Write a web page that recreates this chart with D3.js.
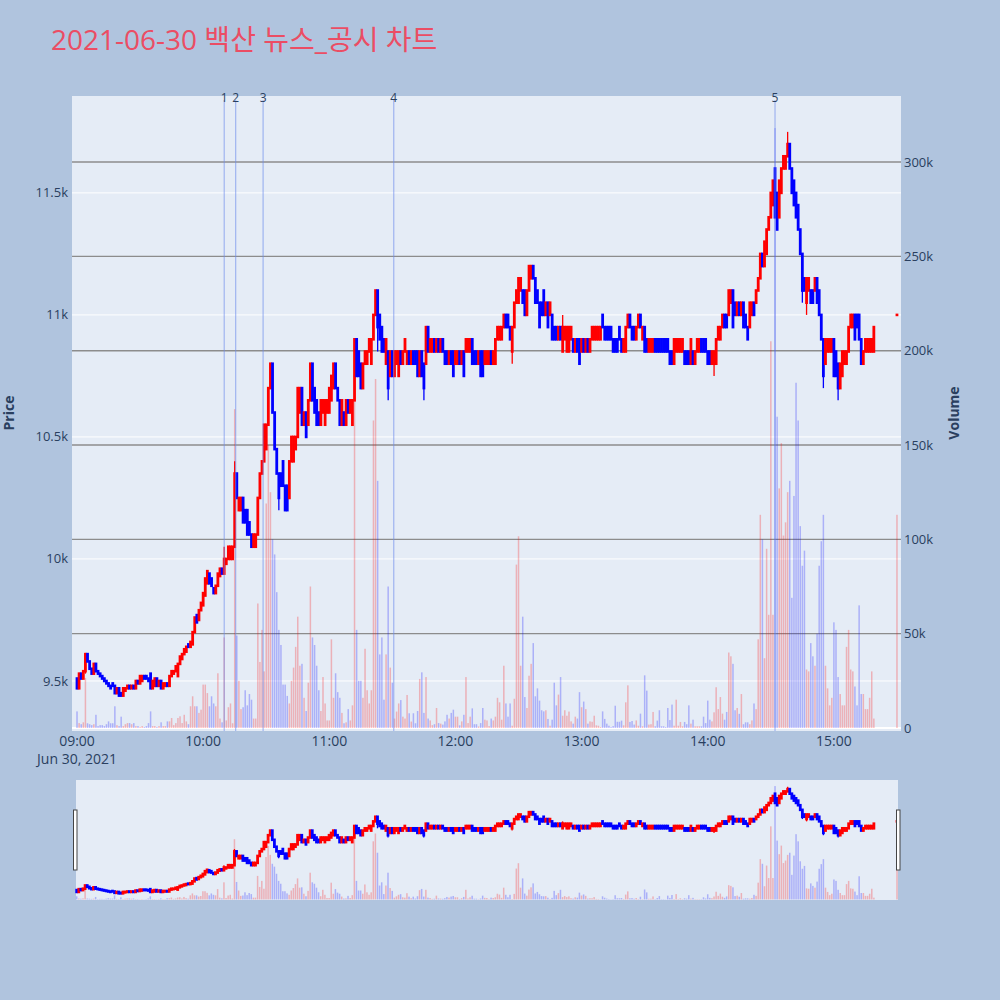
<!DOCTYPE html>
<html>
<head>
<meta charset="utf-8">
<script src="https://cdn.jsdelivr.net/npm/d3@7"></script>
<style>
body { margin: 0; background: #b0c4de; }
text { font-family: "Open Sans", "Noto Sans CJK KR", sans-serif; }
</style>
</head>
<body>
<svg id="chart" width="1000" height="1000"></svg>
<script>
const chartTitle = "2021-06-30 백산 뉴스_공시 차트"
const tradeDate = "2021-06-30"
const firstMinute = "09:00"

// one-minute candles, 09:00 .. 15:19
const opens = [
    9510,9470,9530,9510,9540,9610,9580,9550,9530,9570,
    9540,9530,9520,9510,9500,9490,9480,9490,9480,9450,
    9470,9450,9440,9460,9470,9480,9470,9480,9470,9500,
    9490,9500,9520,9520,9510,9530,9470,9480,9510,9480,
    9500,9470,9480,9490,9480,9520,9530,9540,9520,9570,
    9590,9610,9620,9650,9640,9650,9700,9770,9750,9790,
    9810,9850,9900,9940,9920,9880,9860,9890,9930,9960,
    9940,9980,10000,10000,10000,10050,10350,10200,10200,10250,
    10200,10200,10150,10100,10050,10050,10100,10250,10350,10400,
    10450,10550,10700,10800,10600,10450,10350,10350,10400,10300,
    10300,10250,10400,10400,10450,10500,10600,10700,10550,10600,
    10550,10650,10800,10700,10650,10600,10550,10600,10550,10600,
    10600,10650,10700,10800,10700,10650,10550,10600,10550,10650,
    10600,10550,10650,10900,10850,10800,10700,10800,10800,10850,
    10800,10900,11000,11100,11000,10950,10900,10800,10850,10750,
    10850,10750,10800,10750,10850,10800,10850,10800,10850,10800,
    10850,10850,10850,10750,10850,10800,10800,10950,10850,10850,
    10900,10850,10900,10850,10900,10850,10850,10800,10850,10850,
    10800,10800,10850,10800,10850,10850,10850,10850,10900,10850,
    10850,10800,10850,10850,10800,10800,10800,10850,10800,10800,
    10900,10900,10900,10950,11000,11000,10950,10850,10950,11050,
    11050,11100,11100,11100,11000,11100,11150,11200,11150,11100,
    11050,11050,11100,11000,11050,11000,11000,10950,10950,10900,
    10950,10850,10900,10850,10850,10900,10900,10850,10900,10900,
    10850,10900,10850,10900,10850,10900,10900,10900,10900,10900,
    11000,10950,10950,10950,10950,10900,10900,10900,10950,10900,
    10850,10850,10950,11000,10950,10950,10900,10950,11000,10900,
    10950,10900,10850,10850,10850,10900,10900,10900,10900,10900,
    10900,10900,10850,10850,10800,10850,10850,10850,10850,10850,
    10850,10850,10800,10850,10800,10850,10850,10900,10900,10900,
    10850,10850,10800,10800,10800,10900,10900,10950,11000,11000,
    11000,11050,11100,11050,11000,11050,11000,11050,11000,10950,
    10950,11000,11050,11050,11100,11150,11250,11200,11250,11350,
    11400,11450,11600,11500,11400,11500,11600,11600,11650,11700,
    11600,11550,11500,11450,11350,11250,11150,11050,11100,11100,
    11100,11100,11150,11100,11000,10900,10800,10850,10850,10850,
    10900,10850,10800,10700,10750,10800,10800,10850,10950,10950,
    11000,11000,11000,10900,10800,10850,10850,10850,10850,10850
]
const closes = [
    9470,9530,9510,9540,9610,9580,9550,9530,9570,9540,
    9530,9520,9510,9500,9490,9480,9470,9480,9450,9470,
    9440,9440,9470,9470,9480,9470,9480,9470,9500,9490,
    9520,9520,9510,9510,9500,9470,9500,9510,9480,9500,
    9470,9490,9490,9480,9520,9540,9540,9560,9570,9600,
    9610,9630,9640,9640,9660,9700,9760,9740,9790,9820,
    9860,9920,9950,9900,9890,9860,9890,9940,9960,9940,
    10000,10000,10050,10050,10050,10350,10250,10250,10250,10150,
    10150,10100,10100,10050,10100,10100,10250,10350,10400,10550,
    10550,10700,10800,10600,10450,10350,10250,10300,10300,10200,
    10200,10400,10500,10500,10500,10700,10700,10550,10600,10500,
    10650,10800,10650,10600,10550,10550,10650,10650,10650,10650,
    10700,10750,10800,10700,10650,10550,10650,10550,10650,10600,
    10650,10650,10900,10750,10750,10700,10800,10850,10850,10900,
    10900,11000,11100,10950,10900,10850,10850,10900,10700,10850,
    10750,10850,10850,10850,10800,10850,10900,10850,10800,10850,
    10800,10800,10750,10850,10750,10700,10950,10850,10900,10900,
    10850,10900,10850,10900,10850,10800,10800,10850,10800,10750,
    10850,10850,10800,10850,10750,10900,10900,10900,10800,10800,
    10800,10850,10750,10750,10850,10850,10850,10800,10850,10900,
    10950,10950,10950,11000,10950,10950,10900,10950,11050,11100,
    11150,11150,11050,11000,11100,11200,11200,11150,11050,11050,
    10950,11000,11000,11050,10950,11050,10900,10900,10900,10950,
    10900,10950,10950,10950,10950,10950,10850,10900,10850,10800,
    10900,10850,10900,10850,10900,10950,10950,10950,10950,10950,
    10950,10900,10900,10900,10900,10850,10850,10850,10900,10850,
    10900,10950,11000,10950,10900,10900,10950,11000,10950,10950,
    10850,10850,10900,10900,10900,10850,10850,10850,10850,10850,
    10850,10850,10800,10800,10900,10900,10900,10900,10900,10800,
    10800,10800,10900,10800,10850,10900,10900,10850,10850,10850,
    10800,10800,10850,10850,10900,10950,10950,11000,10950,10950,
    11100,11100,10950,11000,11050,11000,11050,10950,10950,10900,
    11050,11050,11000,11100,11150,11250,11200,11300,11350,11400,
    11500,11550,11400,11350,11550,11600,11650,11650,11700,11600,
    11500,11450,11400,11350,11250,11100,11100,11150,11150,11050,
    11050,11150,11050,11000,10900,10750,10900,10900,10900,10900,
    10750,10750,10700,10800,10850,10850,10850,10950,11000,11000,
    10900,10950,10900,10800,10850,10900,10900,10900,10900,10950
]
// volume in thousand shares
const volumeK = [
    8.8,2.6,2,3,26.5,2.5,2,1.5,2,7,
    1,1.5,1.5,1,2,3.5,2.5,2.5,11.5,1.5,
    1,6,1,2,2.6,2.6,2,2.6,1,1,
    0.5,1,0.5,1,2.6,8.8,1,1,0.5,1,
    3,1,1,3.5,3.5,5.3,1.5,2.6,5.3,6.2,
    2.6,7,3.5,2,11.5,16.8,11.5,11.5,8,9.7,
    23,23,18.5,11.5,16.8,13,11.5,29,5,3,
    48,4,11,13,2.5,169,49,25,10,11,
    20,12,18,15,5,5,66,35,52,30,
    119,150,125,100,92,72,52,44,23,23,
    17,13,25,32,43,59,33,34,16,9,
    24,75,48,44,33,20,9,27,13,4,
    4,47,16,29,19,16,8,2.5,3,10,
    4,12,195,52,25,25,16,42,20,13,
    20,163,185,131,39,48,15,39,75,32,
    24,5,8.7,13,14.8,6,5,17.5,7.8,3.4,
    7.8,2.5,9,26,29.5,8,27,5,4,1.5,
    2,10.6,2.6,2.3,1.8,3.5,7,5,8,9.7,
    6,6,1.4,3.5,7,27,2.6,6,10.4,2,
    2,0.8,2.6,10.6,4.4,4,1,5,4,6,
    16,13.6,4.4,33,13,6,13,1.2,15.5,86.6,
    101.6,33,59,16.4,10.6,27.7,34,45,16.8,21,
    14.5,9.4,8.8,9.4,4.8,1.2,4.4,24,12,17.7,
    27,6.5,9.4,6.5,8.7,3.5,2.3,6,5,19,
    11,14,10,2.3,3.5,3.3,6.5,1.4,1.2,0.5,
    8.8,4.8,2.3,1.2,0.5,1,11.8,3.3,3.3,3.9,
    1.4,13.6,22.6,3.2,3.7,1.8,4,1.2,7.6,0.9,
    27.9,19.8,1.8,2,8.5,0.9,3.9,9.4,0.9,0.9,
    0.5,10.6,4.2,12.4,1.2,15,1.2,3.2,0.9,3.2,
    2,12,2.3,4.4,0.9,0.9,0.9,0.9,6,2.6,
    14.5,4.4,3.5,8.3,21.6,10,16.4,7.6,4.4,8.5,
    40,38,34,9.4,10.6,7.5,18,2,3,3,
    2,4,13,10,47,113,100,37,95,60,
    205,60,318,165,127,151,102,109,125,131,
    69,123,183,163,107,86,94,31,30,45,
    38,33,50,86,99,113,33,21,12,16,
    56,52,27,18,12,12,43,52,31,30,
    22,12,65,18,18,10,10,16,30,5
]
// [minute index, high, low] where a wick sticks out of the body
const wicks = [
    [4,9615,9530],[70,10050,9940],[75,10400,10050],[96,10350,10200],
    [143,11100,10850],[148,10850,10650],[165,10800,10650],[207,10950,10800],
    [231,11000,10850],[303,10850,10750],[338,11750,11650],[345,11250,11050],
    [347,11150,11000],[355,10900,10700],[362,10800,10650]
]
const auctionTime = "15:30"
const auctionPrice = 11000
const auctionVolumeK = 113

const newsTimes = ["10:10:00", "10:15:30", "10:28:30", "11:30:40", "14:32:00"]
const newsLabels = ["1", "2", "3", "4", "5"]

const priceTicks = [9500, 10000, 10500, 11000, 11500]
const priceTickLabels = ["9.5k", "10k", "10.5k", "11k", "11.5k"]
const volumeTicks = [0, 50, 100, 150, 200, 250, 300]
const volumeTickLabels = ["0", "50k", "100k", "150k", "200k", "250k", "300k"]
const hourTicks = ["09:00", "10:00", "11:00", "12:00", "13:00", "14:00", "15:00"]

const parseT = d3.timeParse("%Y-%m-%d %H:%M:%S")
const at = s => parseT(tradeDate + " " + (s.length == 5 ? s + ":00" : s))

function buildCandles(){
    const start = at(firstMinute)
    let candles = opens.map((o, i) => {
        let c = closes[i]
        return {t: d3.timeMinute.offset(start, i), o: o, c: c,
            hi: Math.max(o, c), lo: Math.min(o, c), v: volumeK[i]}
    })
    for (const w of wicks){
        let d = candles[w[0]]
        d.hi = Math.max(d.hi, w[1])
        d.lo = Math.min(d.lo, w[2])
    }
    candles.push({t: at(auctionTime), o: auctionPrice, c: auctionPrice,
        hi: auctionPrice, lo: auctionPrice, v: auctionVolumeK})
    return candles
}

const candles = buildCandles()
const svg = d3.select("#chart")
const axisColor = "#2a3f5f"
const upColor = "#ff0000"
const downColor = "#0000ff"
const isUp = d => d.c >= d.o

const main = {left: 72, right: 901, top: 96, bottom: 731}
const slider = {left: 76, right: 898, top: 780, bottom: 900}

const x = d3.scaleTime().domain([at("08:57:37"), at("15:31:55")]).range([main.left, main.right])
const y = d3.scaleLinear().domain([9295, 11897]).range([main.bottom, main.top])
const yv = d3.scaleLinear().domain([-1.6, 335]).range([main.bottom, main.top])

const xs = d3.scaleTime().domain([at("08:59:40"), at("15:30:28")]).range([slider.left, slider.right])
const ys = d3.scaleLinear().domain(y.domain()).range([slider.bottom, slider.top])
const ysv = d3.scaleLinear().domain(yv.domain()).range([slider.bottom, slider.top])

// title
svg.append("text")
    .text(chartTitle)
    .attr("x", 51)
    .attr("y", 50)
    .attr("font-size", 28)
    .attr("fill", "#eb4d64")

// main plot background
svg.append("rect")
    .attr("x", main.left).attr("y", main.top)
    .attr("width", main.right - main.left).attr("height", main.bottom - main.top)
    .attr("fill", "#e5ecf6")

// price grid
svg.append("g").selectAll("line").data(priceTicks).join("line")
    .attr("x1", main.left).attr("x2", main.right)
    .attr("y1", d => y(d)).attr("y2", d => y(d))
    .attr("stroke", "white").attr("stroke-width", 1)

// volume grid
svg.append("g").selectAll("line").data(volumeTicks.slice(1)).join("line")
    .attr("x1", main.left).attr("x2", main.right)
    .attr("y1", d => yv(d)).attr("y2", d => yv(d))
    .attr("stroke", "#8c8c8c").attr("stroke-width", 1.4)

svg.append("line")
    .attr("x1", main.left).attr("x2", main.right)
    .attr("y1", yv(0)).attr("y2", yv(0))
    .attr("stroke", "white").attr("stroke-width", 2)

function drawSeries(g, xScale, yScale, yvScale){
    g.append("g").selectAll("rect").data(candles).join("rect")
        .attr("x", d => xScale(d.t) - 0.75)
        .attr("width", 1.5)
        .attr("y", d => yvScale(d.v))
        .attr("height", d => yvScale(0) - yvScale(d.v))
        .attr("fill", d => isUp(d) ? "rgba(255,0,0,0.25)" : "rgba(0,0,255,0.25)")

    g.append("g").selectAll("line").data(candles.filter(d => d.hi > Math.max(d.o, d.c) || d.lo < Math.min(d.o, d.c))).join("line")
        .attr("x1", d => xScale(d.t)).attr("x2", d => xScale(d.t))
        .attr("y1", d => yScale(d.hi)).attr("y2", d => yScale(d.lo))
        .attr("stroke", d => isUp(d) ? upColor : downColor)
        .attr("stroke-width", 1.3)

    g.append("g").selectAll("rect").data(candles).join("rect")
        .attr("x", d => xScale(d.t) - 1.4)
        .attr("width", 2.8)
        .attr("y", d => yScale(Math.max(d.o, d.c)) - 1.3)
        .attr("height", d => Math.abs(yScale(d.o) - yScale(d.c)) + 2.6)
        .attr("fill", d => isUp(d) ? upColor : downColor)
}

drawSeries(svg.append("g"), x, y, yv)

// news markers
const news = svg.append("g")
news.selectAll("line").data(newsTimes).join("line")
    .attr("x1", d => x(at(d))).attr("x2", d => x(at(d)))
    .attr("y1", 100).attr("y2", main.bottom)
    .attr("stroke", "rgb(110,140,235)")
    .attr("stroke-opacity", 0.7)
    .attr("stroke-width", 1)
news.selectAll("text").data(newsTimes).join("text")
    .text((d, i) => newsLabels[i])
    .attr("x", d => x(at(d)))
    .attr("y", 102)
    .attr("text-anchor", "middle")
    .attr("font-size", 12)
    .attr("fill", axisColor)

// axes labels
svg.append("g").selectAll("text").data(priceTicks).join("text")
    .text((d, i) => priceTickLabels[i])
    .attr("x", 68)
    .attr("y", d => y(d))
    .attr("dy", "0.35em")
    .attr("text-anchor", "end")
    .attr("font-size", 13)
    .attr("fill", axisColor)

svg.append("g").selectAll("text").data(volumeTicks).join("text")
    .text((d, i) => volumeTickLabels[i])
    .attr("x", 904)
    .attr("y", d => yv(d))
    .attr("dy", "0.35em")
    .attr("text-anchor", "start")
    .attr("font-size", 13)
    .attr("fill", axisColor)

svg.append("g").selectAll("text").data(hourTicks).join("text")
    .text(d => d)
    .attr("x", d => x(at(d)))
    .attr("y", 746)
    .attr("text-anchor", "middle")
    .attr("font-size", 14)
    .attr("fill", axisColor)

svg.append("text")
    .text("Jun 30, 2021")
    .attr("x", x(at(hourTicks[0])))
    .attr("y", 764)
    .attr("text-anchor", "middle")
    .attr("font-size", 14)
    .attr("fill", axisColor)

svg.append("text")
    .text("Price")
    .attr("transform", "translate(14,413) rotate(-90)")
    .attr("text-anchor", "middle")
    .attr("font-size", 14)
    .attr("font-weight", "bold")
    .attr("fill", axisColor)

svg.append("text")
    .text("Volume")
    .attr("transform", "translate(959,413) rotate(-90)")
    .attr("text-anchor", "middle")
    .attr("font-size", 14)
    .attr("font-weight", "bold")
    .attr("fill", axisColor)

// range slider
svg.append("rect")
    .attr("x", slider.left).attr("y", slider.top)
    .attr("width", slider.right - slider.left).attr("height", slider.bottom - slider.top)
    .attr("fill", "#e5ecf6")

drawSeries(svg.append("g"), xs, ys, ysv)

for (const hx of [73.5, 896.5]){
    svg.append("rect")
        .attr("x", hx).attr("y", 810)
        .attr("width", 3.5).attr("height", 60)
        .attr("fill", "white")
        .attr("stroke", "#444")
        .attr("stroke-width", 1)
}
</script>
</body>
</html>
